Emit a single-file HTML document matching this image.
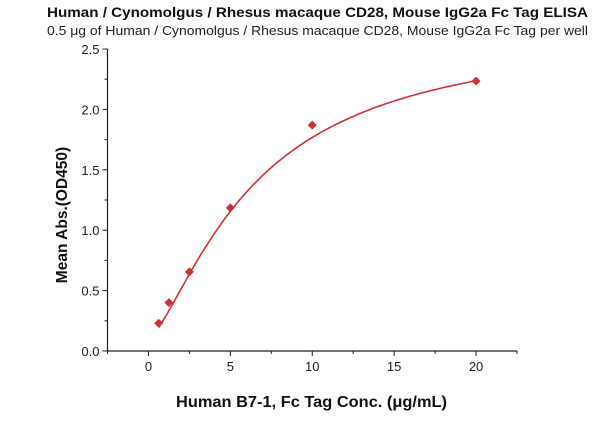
<!DOCTYPE html>
<html><head><meta charset="utf-8"><style>
body{margin:0;background:#fff;width:600px;height:421px;overflow:hidden}
svg{display:block}
text{font-family:"Liberation Sans",sans-serif}
</style></head><body>
<svg id="chart" width="600" height="421">
<text x="47" y="17" textLength="541" lengthAdjust="spacingAndGlyphs" font-size="14" font-weight="bold" fill="#111">Human / Cynomolgus / Rhesus macaque CD28, Mouse IgG2a Fc Tag ELISA</text>
<text x="47" y="35" textLength="541" lengthAdjust="spacingAndGlyphs" font-size="12.5" fill="#222">0.5 μg of Human / Cynomolgus / Rhesus macaque CD28, Mouse IgG2a Fc Tag per well</text>
<text transform="translate(67,215) rotate(-90)" text-anchor="middle" font-size="15.5" font-weight="bold" fill="#111">Mean Abs.(OD450)</text>
<text x="176" y="407" textLength="271" lengthAdjust="spacingAndGlyphs" font-size="15.5" font-weight="bold" fill="#111">Human B7-1, Fc Tag Conc. (μg/mL)</text>
<g id="axes"></g><g id="marks"></g>
</svg>
<script>
const xValues=[0.625,1.25,2.5,5,10,20];
const yValues=[0.23,0.40,0.655,1.185,1.87,2.235];
const xTicks=[0,5,10,15,20];
const yTicks=[0.0,0.5,1.0,1.5,2.0,2.5];
const fitBottom=0.1, fitSpan=2.58, fitK=6.5, fitN=1.4;
const L=107.5,R=517,T=49,B=351,xMin=-2.5,xMax=22.5,yMin=0,yMax=2.5;
const sx=v=>L+(v-xMin)/(xMax-xMin)*(R-L);
const sy=v=>B-(v-yMin)/(yMax-yMin)*(B-T);
const NS="http://www.w3.org/2000/svg";
const ax=document.getElementById('axes'),mk=document.getElementById('marks');
function el(t,a,p){const e=document.createElementNS(NS,t);for(const k in a)e.setAttribute(k,a[k]);p.appendChild(e);return e;}
let l=el('line',{x1:L,y1:T,x2:L,y2:B,stroke:'#222','stroke-width':1.2},ax);


l=el('line',{x1:L,y1:B,x2:R,y2:B,stroke:'#222','stroke-width':1.2},ax);


for(let v=xMin;v<=xMax+1e-9;v+=2.5){const major=Math.abs(v%5)<1e-9;
 el('line',{x1:sx(v),y1:B,x2:sx(v),y2:B+(major?5:3),stroke:'#222'},ax);}
for(let v=yMin;v<=yMax+1e-9;v+=0.25){const major=Math.abs((v*2)%1)<1e-9;
 el('line',{x1:L,y1:sy(v),x2:L-(major?5:3),y2:sy(v),stroke:'#222'},ax);}
xTicks.forEach(v=>{const t=el('text',{x:sx(v),y:B+20,'text-anchor':'middle','font-size':13,fill:'#222'},ax);t.textContent=v;
 
 });
yTicks.forEach(v=>{const t=el('text',{x:L-8,y:sy(v)+5,'text-anchor':'end','font-size':13,fill:'#222'},ax);t.textContent=v.toFixed(1);
 
 });
const f=x=>fitBottom+fitSpan*Math.pow(x,fitN)/(Math.pow(fitK,fitN)+Math.pow(x,fitN));
let d='';for(let i=0;i<=100;i++){const x=xValues[0]+(xValues[xValues.length-1]-xValues[0])*i/100;d+=(i?'L':'M')+sx(x).toFixed(1)+','+sy(f(x)).toFixed(1);}
const p=el('path',{d:d,fill:'none',stroke:'#cc3333','stroke-width':1.6},mk);


xValues.forEach((x,i)=>{const cx=sx(x),cy=sy(yValues[i]),r=4.5;
 const m=el('polygon',{points:`${cx},${cy-r} ${cx+r},${cy} ${cx},${cy+r} ${cx-r},${cy}`,fill:'#cc3333'},mk);
 
 });
</script>
</body></html>
